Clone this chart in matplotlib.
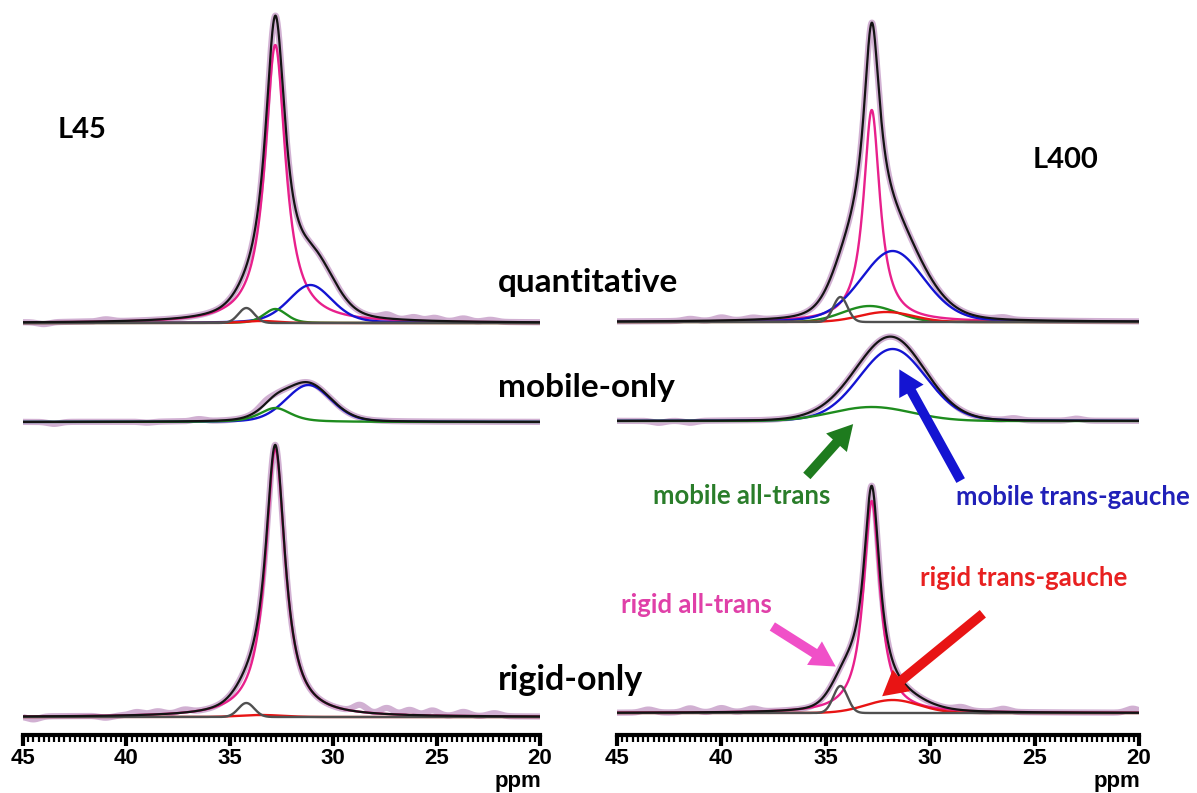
import numpy as np
import matplotlib
matplotlib.use("Agg")
import matplotlib.pyplot as plt
from matplotlib.patches import FancyArrowPatch
from matplotlib.ticker import MultipleLocator

# ---------------- data ----------------
components = ["rigid all-trans", "mobile trans-gauche", "mobile all-trans",
              "rigid trans-gauche", "defect"]
comp_colors = ["#E8208C", "#1414D2", "#1E8C1E", "#E81414", "#505050"]
comp_in_fit = [True, True, True, True, False]

spectra = ["quantitative", "mobile-only", "rigid-only"]
samples = ["L45", "L400"]

# peak parameters per component: centre (ppm), height, FWHM (ppm), Lorentz fraction
L45_quant_center = [32.8, 31.1, 32.8, 33.5, 34.2]
L45_quant_height = [278, 38, 14, 2, 15]
L45_quant_fwhm = [1.2, 2.5, 1.3, 2.0, 0.9]
L45_quant_eta = [1.0, 0.3, 0.3, 0.0, 0.0]
# extra unresolved intensity in the total fit: centre, height, FWHM
L45_quant_extra = [[34.0, 10, 1.6], [30.6, 13, 2.0]]
# baseline ripples of the measured spectrum: centre, height
L45_quant_ripple = [[44.0, -2], [41.0, 2], [27.4, 4], [26.1, 3], [25.1, 3],
                    [23.7, 3], [22.4, 2]]

L45_mobile_center = [32.8, 31.2, 32.8, 33.5, 34.2]
L45_mobile_height = [0, 37, 14, 0, 0]
L45_mobile_fwhm = [1.2, 2.6, 1.8, 2.0, 0.9]
L45_mobile_eta = [1.0, 0.2, 0.6, 0.0, 0.0]
L45_mobile_extra = []
L45_mobile_ripple = [[43.5, -2], [39.0, -1], [36.5, 2], [33.3, 3]]

L45_rigid_center = [32.8, 31.2, 32.8, 33.5, 34.2]
L45_rigid_height = [268, 0, 0, 2, 14]
L45_rigid_fwhm = [1.15, 2.6, 1.8, 2.5, 0.9]
L45_rigid_eta = [1.0, 0.2, 0.6, 0.0, 0.0]
L45_rigid_extra = [[34.0, 12, 1.6]]
L45_rigid_ripple = [[44.5, -3], [41.0, -2], [39.5, 3], [38.5, 3], [37.2, 3],
                    [28.7, 7], [27.4, 6], [26.3, 5], [25.2, 5], [23.7, 4],
                    [22.2, 3]]

L400_quant_center = [32.8, 31.8, 32.9, 32.1, 34.3]
L400_quant_height = [212, 71, 16, 10, 25]
L400_quant_fwhm = [0.95, 3.6, 3.0, 3.0, 0.8]
L400_quant_eta = [1.0, 0.2, 0.0, 0.0, 0.0]
L400_quant_extra = [[34.0, 24, 1.7]]
L400_quant_ripple = [[41.5, 2], [40.0, 3], [38.5, 2], [26.5, 2]]

L400_mobile_center = [32.8, 31.8, 32.8, 32.1, 34.3]
L400_mobile_height = [0, 72, 14, 0, 0]
L400_mobile_fwhm = [0.95, 3.8, 4.5, 3.0, 0.8]
L400_mobile_eta = [1.0, 0.1, 0.0, 0.0, 0.0]
L400_mobile_extra = []
L400_mobile_ripple = [[43.0, -2], [41.5, -2], [26.0, 2], [23.0, 2]]

L400_rigid_center = [32.8, 31.8, 32.8, 31.8, 34.3]
L400_rigid_height = [212, 0, 0, 13, 27]
L400_rigid_fwhm = [0.95, 3.8, 4.5, 3.0, 0.8]
L400_rigid_eta = [1.0, 0.1, 0.0, 0.0, 0.0]
L400_rigid_extra = [[34.0, 27, 1.6]]
L400_rigid_ripple = [[43.5, 3], [41.5, 4], [40.0, 4], [38.5, 3], [28.5, 3],
                     [26.5, 3], [20.3, 4]]

x_ticks = [45, 40, 35, 30, 25, 20]
x_tick_labels = ["45", "40", "35", "30", "25", "20"]

# ---------------- layout ----------------
W, H = 1197, 793
fig = plt.figure(figsize=(W / 100, H / 100), dpi=100)


def fx(px):
    return px / W


def fy(py):
    return 1 - py / H


AX_BOTTOM = 735
ax_l = fig.add_axes([fx(23), fy(AX_BOTTOM), (540 - 23) / W, AX_BOTTOM / H])
ax_r = fig.add_axes([fx(617), fy(AX_BOTTOM), (1139 - 617) / W, AX_BOTTOM / H])

ppm = np.linspace(45, 20, 3001)


def pvoigt(x, c, h, fwhm, eta):
    hw = fwhm / 2.0
    lor = 1.0 / (1.0 + ((x - c) / hw) ** 2)
    gau = np.exp(-np.log(2) * ((x - c) / hw) ** 2)
    return h * (eta * lor + (1 - eta) * gau)


def draw_spectrum(ax, base, centers, heights, fwhms, etas, extra, ripple):
    comps = []
    total = np.zeros_like(ppm)
    for c, h, w, e, col, inf in zip(centers, heights, fwhms, etas,
                                    comp_colors, comp_in_fit):
        if h <= 0:
            continue
        y = pvoigt(ppm, c, h, w, e)
        if inf:
            total += y
        comps.append((y, col))
    for c, h, w in extra:
        total += pvoigt(ppm, c, h, w, 0.0)
    measured = total.copy()
    for c, h in ripple:
        measured += pvoigt(ppm, c, h, 0.7, 0.0)
    # experimental (light purple, thick)
    ax.plot(ppm, base + measured, color="#C9A3CB", lw=4.5, alpha=0.85,
            solid_capstyle="butt", zorder=1)
    for y, col in comps:
        ax.plot(ppm, base + y, color=col, lw=1.7, zorder=2)
    ax.plot(ppm, base + total, color="#141414", lw=1.6, zorder=3)


left_sets = [
    (735 - 323, L45_quant_center, L45_quant_height, L45_quant_fwhm, L45_quant_eta,
     L45_quant_extra, L45_quant_ripple),
    (735 - 422, L45_mobile_center, L45_mobile_height, L45_mobile_fwhm, L45_mobile_eta,
     L45_mobile_extra, L45_mobile_ripple),
    (735 - 717, L45_rigid_center, L45_rigid_height, L45_rigid_fwhm, L45_rigid_eta,
     L45_rigid_extra, L45_rigid_ripple),
]
right_sets = [
    (735 - 322, L400_quant_center, L400_quant_height, L400_quant_fwhm, L400_quant_eta,
     L400_quant_extra, L400_quant_ripple),
    (735 - 421, L400_mobile_center, L400_mobile_height, L400_mobile_fwhm, L400_mobile_eta,
     L400_mobile_extra, L400_mobile_ripple),
    (735 - 713, L400_rigid_center, L400_rigid_height, L400_rigid_fwhm, L400_rigid_eta,
     L400_rigid_extra, L400_rigid_ripple),
]

for ax, sets in ((ax_l, left_sets), (ax_r, right_sets)):
    for s in sets:
        draw_spectrum(ax, *s)
    ax.set_xlim(45, 20)
    ax.set_ylim(0, AX_BOTTOM)
    for side in ("left", "right", "top"):
        ax.spines[side].set_visible(False)
    ax.spines["bottom"].set_linewidth(3)
    ax.spines["bottom"].set_color("black")
    ax.set_yticks([])
    ax.set_xticks(x_ticks)
    ax.set_xticklabels(x_tick_labels, fontfamily="Liberation Sans",
                       fontweight="bold", fontsize=16)
    ax.xaxis.set_minor_locator(MultipleLocator(0.25))
    ax.tick_params(axis="x", which="major", direction="out", length=8,
                   width=3, pad=1)
    ax.tick_params(axis="x", which="minor", direction="out", length=5,
                   width=1.6)
    ax.patch.set_alpha(0)

# ppm labels
for xr in (541, 1140):
    fig.text(fx(xr), fy(782), "ppm", ha="right", va="center",
             fontfamily="Liberation Sans", fontweight="bold", fontsize=16)

# panel / spectrum labels
fig.text(fx(58), fy(130), samples[0], ha="left", va="center", fontsize=21,
         fontfamily="Lato", fontweight="bold")
fig.text(fx(1033), fy(160), samples[1], ha="left", va="center", fontsize=21,
         fontfamily="Lato", fontweight="bold")
fig.text(fx(498), fy(282), spectra[0], ha="left", va="center", fontsize=24,
         fontfamily="Lato", fontweight="bold")
fig.text(fx(498), fy(388), spectra[1], ha="left", va="center", fontsize=24,
         fontfamily="Lato", fontweight="bold")
fig.text(fx(498), fy(680), spectra[2], ha="left", va="center", fontsize=24.5,
         fontfamily="Lato", fontweight="bold")

# component annotations
ann_text = ["mobile all-trans", "mobile trans-gauche", "rigid all-trans",
            "rigid trans-gauche"]
ann_text_col = ["#2A7D2A", "#2020B8", "#E040A8", "#E82020"]
ann_arrow_col = ["#1E7B1E", "#1414D2", "#F050C8", "#E81414"]
ann_text_pos = [(742, 496), (1073, 497), (696, 605), (1024, 578)]
ann_tail = [(805, 478), (962, 483), (770, 625), (985, 612)]
ann_head = [(855, 422), (898, 367), (838, 668), (880, 698)]

for txt, tcol, acol, tp, a0, a1 in zip(ann_text, ann_text_col, ann_arrow_col,
                                       ann_text_pos, ann_tail, ann_head):
    fig.text(fx(tp[0]), fy(tp[1]), txt, ha="center", va="center",
             fontsize=18.5, color=tcol, fontfamily="Lato", fontweight="bold")
    arr = FancyArrowPatch((fx(a0[0]), fy(a0[1])), (fx(a1[0]), fy(a1[1])),
                          transform=fig.transFigure,
                          arrowstyle="simple,head_length=0.9,head_width=1.0,tail_width=0.35",
                          mutation_scale=20, color=acol, lw=0)
    fig.add_artist(arr)

fig.savefig("out.png", dpi=100)
